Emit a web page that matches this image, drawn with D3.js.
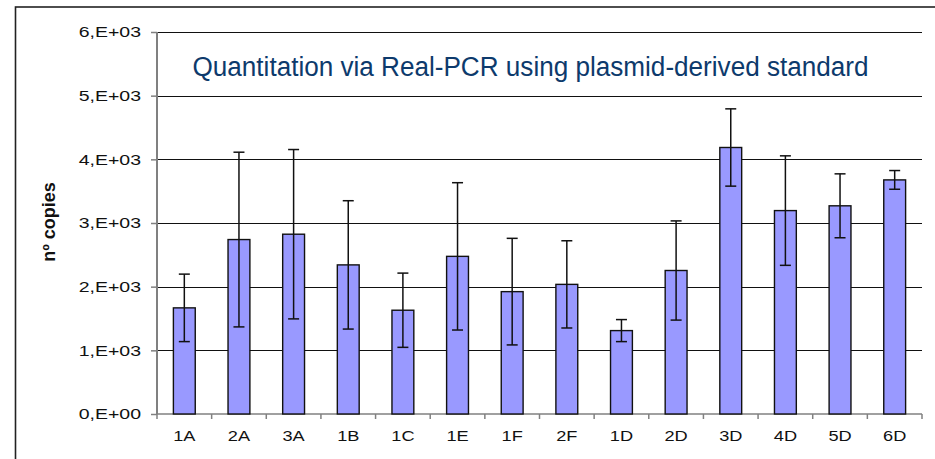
<!DOCTYPE html>
<html>
<head>
<meta charset="utf-8">
<script src="https://cdn.jsdelivr.net/npm/d3@7"></script>
<style>
  body { margin: 0; background: #fff; }
  svg { display: block; font-family: "Liberation Sans", Arial, sans-serif; }
</style>
</head>
<body>
<div id="chart"></div>
<script>
// -- DATA -- //
const samples = ["1A", "2A", "3A", "1B", "1C", "1E", "1F", "2F", "1D", "2D", "3D", "4D", "5D", "6D"];
const copies = [1667, 2740, 2824, 2342, 1630, 2476, 1922, 2036, 1310, 2254, 4186, 3195, 3270, 3677];
const errors = [530, 1372, 1330, 1008, 583, 1157, 837, 685, 173, 779, 607, 860, 502, 147];
const yTicks = [0, 1000, 2000, 3000, 4000, 5000, 6000];
const yTickLabels = ["0,E+00", "1,E+03", "2,E+03", "3,E+03", "4,E+03", "5,E+03", "6,E+03"];

const width = 935, height = 459;
const plot = { left: 157, right: 922, top: 32, bottom: 414 };

const svg = d3.select("#chart").append("svg")
  .attr("width", width)
  .attr("height", height);

// outer chart frame (right and bottom edges fall outside the picture)
svg.append("rect")
  .attr("x", 15.5).attr("y", 7)
  .attr("width", 960).attr("height", 480)
  .attr("fill", "none")
  .attr("stroke", "#222")
  .attr("stroke-width", 1.6);

const x = d3.scaleBand().domain(samples).range([plot.left, plot.right]).padding(0);
const y = d3.scaleLinear().domain([0, 6000]).range([plot.bottom, plot.top]);

// horizontal gridlines
svg.append("g")
  .selectAll("line")
  .data(yTicks.filter(d => d > 0))
  .join("line")
  .attr("x1", plot.left).attr("x2", plot.right)
  .attr("y1", d => Math.round(y(d)) + 0.5).attr("y2", d => Math.round(y(d)) + 0.5)
  .attr("stroke", "#111")
  .attr("stroke-width", 1);

// y axis
const yAxis = svg.append("g")
  .attr("transform", `translate(${plot.left},0)`)
  .call(d3.axisLeft(y).tickValues(yTicks).tickSize(6).tickPadding(0)
    .tickFormat((d, i) => yTickLabels[i]));
yAxis.select(".domain").remove();
yAxis.selectAll(".tick line").attr("stroke", "#808080").attr("stroke-width", 1.5);
yAxis.selectAll(".tick text")
  .attr("x", -16 / 1.3)
  .attr("transform", "scale(1.3,1)")
  .attr("fill", "#111")
  .style("font-size", "15px");
yAxis.append("line")
  .attr("x1", 0).attr("x2", 0)
  .attr("y1", plot.top).attr("y2", plot.bottom)
  .attr("stroke", "#808080").attr("stroke-width", 2);

// x axis labels
const xAxis = svg.append("g")
  .attr("transform", `translate(0,${plot.bottom})`)
  .call(d3.axisBottom(x).tickSize(0).tickPadding(17));
xAxis.select(".domain").remove();
xAxis.selectAll(".tick text")
  .attr("transform", "scale(1.3,1)")
  .attr("fill", "#111")
  .style("font-size", "14px");

// tick marks on category boundaries
const bounds = samples.map(d => x(d)).concat([plot.right]);
svg.append("g")
  .selectAll("line")
  .data(bounds)
  .join("line")
  .attr("x1", d => d).attr("x2", d => d)
  .attr("y1", plot.bottom).attr("y2", plot.bottom + 5)
  .attr("stroke", "#808080").attr("stroke-width", 1.5);

// baseline
svg.append("line")
  .attr("x1", plot.left).attr("x2", plot.right)
  .attr("y1", plot.bottom).attr("y2", plot.bottom)
  .attr("stroke", "#808080").attr("stroke-width", 1.5);

// bars
const barW = x.bandwidth() * 0.4;
svg.append("g")
  .selectAll("rect")
  .data(samples)
  .join("rect")
  .attr("x", d => x(d) + (x.bandwidth() - barW) / 2)
  .attr("y", (d, i) => y(copies[i]))
  .attr("width", barW)
  .attr("height", (d, i) => y(0) - y(copies[i]))
  .attr("fill", "#9999FF")
  .attr("stroke", "#111")
  .attr("stroke-width", 1.4);

// error bars
const errG = svg.append("g").attr("stroke", "#111").attr("stroke-width", 1.5);
const cap = 5.5;
samples.forEach((d, i) => {
  const cx = x(d) + x.bandwidth() / 2;
  const hi = y(copies[i] + errors[i]);
  const lo = y(copies[i] - errors[i]);
  errG.append("line").attr("x1", cx).attr("x2", cx).attr("y1", hi).attr("y2", lo);
  errG.append("line").attr("x1", cx - cap).attr("x2", cx + cap).attr("y1", hi).attr("y2", hi);
  errG.append("line").attr("x1", cx - cap).attr("x2", cx + cap).attr("y1", lo).attr("y2", lo);
});

// y axis title
svg.append("text")
  .attr("transform", "translate(55,222) rotate(-90)")
  .attr("text-anchor", "middle")
  .attr("fill", "#111")
  .style("font-size", "18px")
  .style("font-weight", "bold")
  .text("nº copies");

// chart title
svg.append("text")
  .attr("x", 192.5)
  .attr("y", 75.5)
  .attr("fill", "#0d3a6c")
  .attr("textLength", 676)
  .attr("lengthAdjust", "spacingAndGlyphs")
  .style("font-size", "27px")
  .text("Quantitation via Real-PCR using plasmid-derived standard");
</script>
</body>
</html>
